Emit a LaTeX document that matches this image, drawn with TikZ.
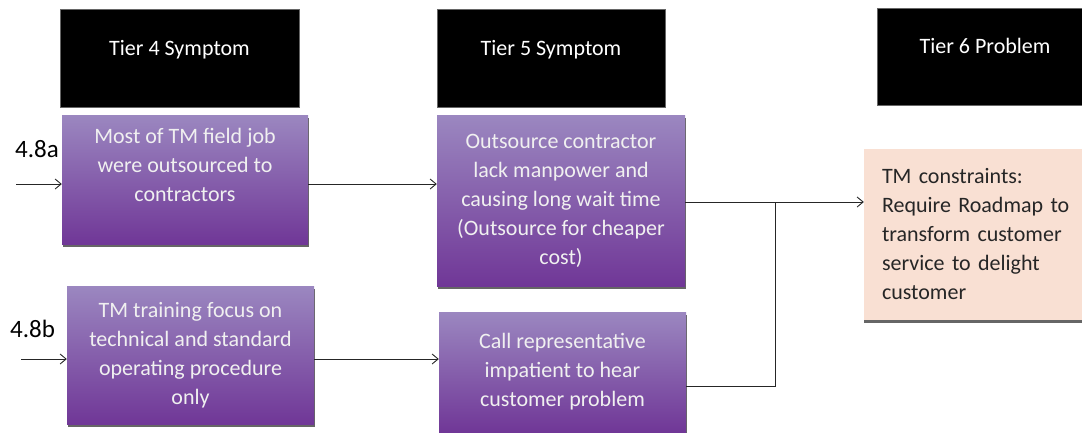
\documentclass[tikz,border=0pt]{standalone}
\usepackage{fontspec}
\setmainfont{Carlito}
\usetikzlibrary{shadows,arrows.meta}
\definecolor{lavtop}{RGB}{155,135,192}
\definecolor{lavmid}{RGB}{92,76,160}
\definecolor{lavbot}{RGB}{112,55,151}
\definecolor{peach}{RGB}{249,224,211}
\tikzset{
  tierhead/.style={fill=black,draw=black!60,text=white,inner ysep=0pt,
    text height=46pt,text depth=52pt,font=\fontsize{22}{29}\selectfont},
  symptombox/.style={top color=lavtop,middle color=lavmid,bottom color=lavbot,
    text=white!94!black,align=center,inner sep=0pt,font=\fontsize{22}{29}\selectfont,
    drop shadow={shadow xshift=1pt,shadow yshift=-3pt,fill=black!60,opacity=1}},
  problembox/.style={fill=peach,text=black!85,align=left,inner xsep=18pt,inner ysep=0pt,
    font=\fontsize{22}{29}\selectfont,
    drop shadow={shadow xshift=0pt,shadow yshift=-3pt,fill=black!60,opacity=1}},
  feed/.style={-{Straight Barb[length=6pt,width=10pt]},black!85,line width=0.9pt}
}
\begin{document}
\begin{tikzpicture}[x=1pt,y=-1pt]
    \useasboundingbox (0,0) rectangle (1082,432);

    \node[tierhead,minimum width=239pt] (t4) at (179.5,58) {Tier 4 Symptom};
    \node[tierhead,minimum width=228pt] (t5) at (551,58.5) {Tier 5 Symptom};
    \node[tierhead,minimum width=216pt,text height=45pt] (t6) at (985,57) {Tier 6 Problem};

    \node[symptombox,minimum width=246pt,minimum height=129pt] (a1) at (185,179.5)
        {Most of TM field job\\were outsourced to\\contractors\\[0pt]};
    \node[symptombox,minimum width=247pt,minimum height=138pt] (a2) at (190.5,355)
        {TM training focus on\\technical and standard\\operating procedure\\only};
    \node[symptombox,minimum width=248pt,minimum height=171pt] (b1) at (561,200.5)
        {Outsource contractor\\lack manpower and\\causing long wait time\\(Outsource for cheaper\\cost)};
    \node[symptombox,minimum width=247pt,minimum height=120pt] (b2) at (562.5,372)
        {Call representative\\impatient to hear\\customer problem};
    \node[problembox,minimum width=226pt,minimum height=171pt,text width=190pt] (c) at (977,234.5)
        {TM constraints:\\Require Roadmap to\\transform customer\\service to delight\\customer};

    \node[anchor=base west,inner sep=0pt,font=\fontsize{25}{30}\selectfont] (l4a) at (15,157) {4.8a};
    \node[anchor=base west,inner sep=0pt,font=\fontsize{25}{30}\selectfont] (l4b) at (10,337) {4.8b};

    \coordinate (in4a) at (16,184);
    \coordinate (in4b) at (21,359);
    \coordinate (join) at (775,202);

    \draw[feed] (in4a) -- (in4a -| a1.west);
    \draw[feed] (in4b) -- (in4b -| a2.west);
    \draw[feed] (in4a -| a1.east) -- (in4a -| b1.west);
    \draw[feed] (in4b -| a2.east) -- (in4b -| b2.west);
    \draw[feed] (join -| b1.east) -- (join -| c.west);
    \draw[black!85,line width=0.9pt] ([yshift=-14pt]b2.east) -| (join);
\end{tikzpicture}
\end{document}
